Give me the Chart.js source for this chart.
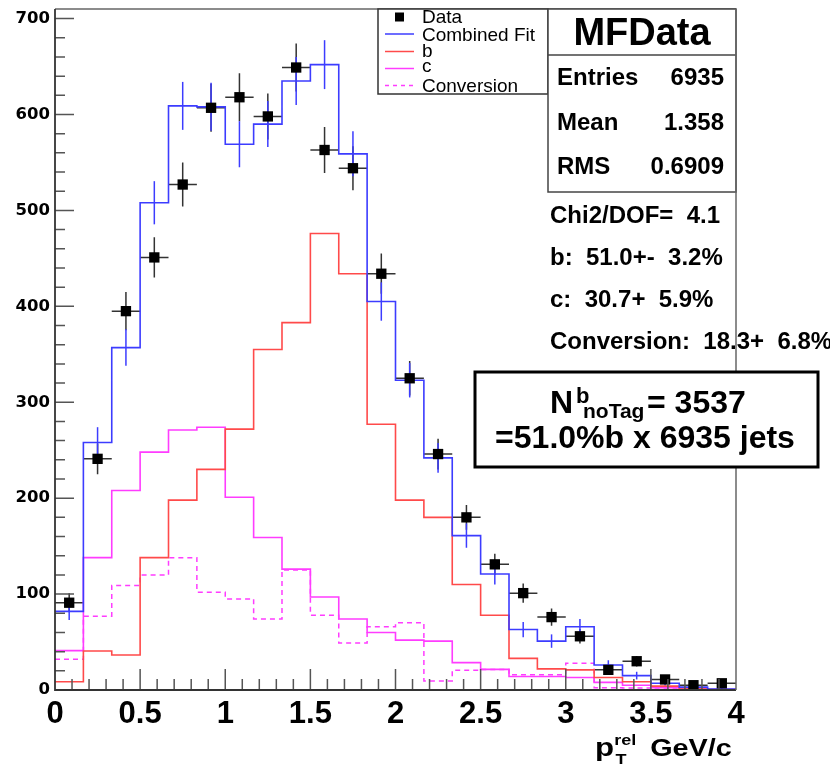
<!DOCTYPE html>
<html>
<head>
<meta charset="utf-8">
<script src="https://cdn.jsdelivr.net/npm/chart.js@4.4.1/dist/chart.umd.min.js"></script>
<style>
  html, body { margin: 0; padding: 0; background: #fff; }
  canvas { display: block; }
</style>
</head>
<body>
<canvas id="myChart" width="830" height="765"></canvas>
<script>
// bin low edges, 24 bins of width 1/6 between 0 and 4
const binLo = [0, 0.1667, 0.3333, 0.5, 0.6667, 0.8333, 1, 1.1667, 1.3333, 1.5, 1.6667, 1.8333,
               2, 2.1667, 2.3333, 2.5, 2.6667, 2.8333, 3, 3.1667, 3.3333, 3.5, 3.6667, 3.8333];
const binWidth = 0.1667;
const xMax = 4;

const dataVals = [91, 241, 395, 451, 527, 607, 618, 598, 649, 563, 544, 434, 325, 246, 180, 131, 101, 76, 56, 21, 30, 11, 5, 7];
const dataErr  = [10, 16, 20, 21, 23, 25, 25, 24, 25, 24, 23, 21, 18, 16, 13, 11, 10, 9, 7.5, 4.6, 5.5, 3.3, 2.2, 2.6];
const fitVals  = [82, 258, 357, 508, 609, 608, 569, 590, 635, 652, 559, 405, 323, 242, 161, 121, 63, 51, 66, 26, 15, 7, 3, 1];
const fitErr   = [9, 16, 19, 22.5, 25, 25, 24, 24, 25, 25.5, 23.5, 20, 18, 15.5, 12.7, 11, 8, 7, 8, 5, 4, 2.6, 1.7, 1];
const bVals    = [8.6, 40.6, 36.5, 138, 198, 230, 272, 355, 383, 476, 434, 277, 198, 180, 110, 78, 33, 22, 21, 13, 8.6, 4, 1, 0.5];
const cVals    = [41, 138, 208, 248, 271, 274, 201, 159, 126, 97, 74, 60, 52, 51, 28.5, 21.5, 14, 14, 13, 8, 5, 2.5, 1, 0.5];
const convVals = [32, 77, 109, 120, 138, 102, 95, 74, 125, 78, 49, 66, 70, 9.4, 20.5, 21.5, 16, 16, 28, 2.4, 2, 1, 0.5, 0.3];

const xTicks = [0, 0.5, 1, 1.5, 2, 2.5, 3, 3.5, 4];
const yTicks = [0, 100, 200, 300, 400, 500, 600, 700];

const legendLabels = ['Data', 'Combined Fit', 'b', 'c', 'Conversion'];
const statsTitle = 'MFData';
const statsRows = [['Entries', '6935'], ['Mean', '1.358'], ['RMS', '0.6909']];
const fitLines = ['Chi2/DOF=  4.1', 'b:  51.0+-  3.2%', 'c:  30.7+  5.9%', 'Conversion:  18.3+  6.8%'];

const BLUE = '#3c3cff';
const RED = '#ff4a4a';
const MAGENTA = '#ff3cff';
const FONT = "'Liberation Sans', Arial, Helvetica, sans-serif";

function toSteps(vals) {
    const pts = vals.map((v, i) => ({ x: binLo[i], y: v }));
    pts.push({ x: xMax, y: vals[vals.length - 1] });
    return pts;
}
const dataPoints = dataVals.map((v, i) => ({ x: binLo[i] + binWidth / 2, y: v }));

function text(ctx, s, x, y, size, weight, align) {
    ctx.font = (weight || 'normal') + ' ' + size + 'px ' + FONT;
    ctx.textAlign = align || 'left';
    ctx.textBaseline = 'alphabetic';
    ctx.fillStyle = '#000';
    ctx.fillText(s, x, y);
}

const rootPlugin = {
    id: 'rootStyle',
    beforeDatasetsDraw(chart) {
        const ctx = chart.ctx;
        const xs = chart.scales.x, ys = chart.scales.y;
        ctx.save();
        // data error bars
        ctx.strokeStyle = '#333';
        ctx.lineWidth = 1.5;
        dataVals.forEach((v, i) => {
            const xl = xs.getPixelForValue(binLo[i]);
            const xh = xs.getPixelForValue(binLo[i] + binWidth);
            const xc = xs.getPixelForValue(binLo[i] + binWidth / 2);
            ctx.beginPath();
            ctx.moveTo(xl, ys.getPixelForValue(v));
            ctx.lineTo(xh, ys.getPixelForValue(v));
            ctx.moveTo(xc, ys.getPixelForValue(v - dataErr[i]));
            ctx.lineTo(xc, ys.getPixelForValue(v + dataErr[i]));
            ctx.stroke();
        });
        // fit error bars
        ctx.strokeStyle = BLUE;
        fitVals.forEach((v, i) => {
            const xc = xs.getPixelForValue(binLo[i] + binWidth / 2);
            ctx.beginPath();
            ctx.moveTo(xc, ys.getPixelForValue(Math.max(0, v - fitErr[i])));
            ctx.lineTo(xc, ys.getPixelForValue(v + fitErr[i]));
            ctx.stroke();
        });
        ctx.restore();
    },
    afterDraw(chart) {
        const ctx = chart.ctx;
        const a = chart.chartArea;
        const xs = chart.scales.x, ys = chart.scales.y;
        ctx.save();

        // inside ticks
        ctx.strokeStyle = '#555';
        ctx.lineWidth = 1.5;
        ctx.beginPath();
        for (let i = 1; i < 40; i++) {
            const px = xs.getPixelForValue(i / 10);
            const len = i % 5 === 0 ? 21 : 11;
            ctx.moveTo(px, a.bottom);
            ctx.lineTo(px, a.bottom - len);
        }
        for (let i = 1; i <= 35; i++) {
            const py = ys.getPixelForValue(i * 20);
            const len = i % 5 === 0 ? 19 : 10;
            ctx.moveTo(a.left, py);
            ctx.lineTo(a.left + len, py);
        }
        ctx.stroke();

        // frame: top + left + bottom
        ctx.strokeStyle = '#666';
        ctx.lineWidth = 1.5;
        ctx.beginPath();
        ctx.moveTo(a.left, a.top);
        ctx.lineTo(a.right, a.top);
        ctx.stroke();
        ctx.strokeStyle = '#333';
        ctx.lineWidth = 1.8;
        ctx.beginPath();
        ctx.moveTo(a.left, a.top);
        ctx.lineTo(a.left, a.bottom);
        ctx.lineTo(a.right, a.bottom);
        ctx.stroke();

        // legend box
        const lx = 378, ly = a.top, lw = 170, lh = 85;
        ctx.fillStyle = '#fff';
        ctx.fillRect(lx, ly, lw, lh);
        ctx.strokeStyle = '#333';
        ctx.lineWidth = 1.5;
        ctx.strokeRect(lx, ly, lw, lh);
        const rowY = [17, 34, 51.5, 68.5, 85.5];
        const baseY = [23, 40.5, 57, 72, 92];
        ctx.fillStyle = '#000';
        ctx.fillRect(395, rowY[0] - 4.5, 9, 9);
        const styles = [null, [BLUE, []], [RED, []], [MAGENTA, []], [MAGENTA, [4, 4]]];
        for (let i = 1; i < 5; i++) {
            ctx.strokeStyle = styles[i][0];
            ctx.setLineDash(styles[i][1]);
            ctx.lineWidth = 1.5;
            ctx.beginPath();
            ctx.moveTo(385, rowY[i]);
            ctx.lineTo(414, rowY[i]);
            ctx.stroke();
        }
        ctx.setLineDash([]);
        legendLabels.forEach((s, i) => text(ctx, s, 422, baseY[i], 19, 'normal'));

        // stats box
        const sx = 548, sw = a.right - 548, sh = 183;
        ctx.fillStyle = '#fff';
        ctx.fillRect(sx, a.top, sw, sh);
        ctx.strokeStyle = '#444';
        ctx.lineWidth = 1.5;
        ctx.strokeRect(sx, a.top, sw, sh);
        ctx.beginPath();
        ctx.moveTo(sx, 55);
        ctx.lineTo(a.right, 55);
        ctx.stroke();
        text(ctx, statsTitle, 642, 45, 38, 'bold', 'center');
        const sy = [85, 130, 174];
        statsRows.forEach((r, i) => {
            text(ctx, r[0], 557, sy[i], 24, 'bold', 'left');
            text(ctx, r[1], 724, sy[i], 24, 'bold', 'right');
        });

        // fit results
        const fy = [223, 265, 307, 349];
        fitLines.forEach((s, i) => text(ctx, s, 550, fy[i], 24, 'bold', 'left'));

        // right frame line (drawn over the fit text)
        ctx.strokeStyle = '#666';
        ctx.lineWidth = 1.5;
        ctx.beginPath();
        ctx.moveTo(a.right, a.top);
        ctx.lineTo(a.right, a.bottom);
        ctx.stroke();

        // annotation box
        ctx.fillStyle = '#fff';
        ctx.fillRect(475, 372, 343, 95);
        ctx.strokeStyle = '#000';
        ctx.lineWidth = 3;
        ctx.strokeRect(475, 372, 343, 95);
        text(ctx, 'N', 550, 413, 32, 'bold');
        text(ctx, 'b', 576, 403, 22, 'bold');
        text(ctx, 'noTag', 583, 418, 21, 'bold');
        text(ctx, '= 3537', 647, 413, 32, 'bold');
        text(ctx, '=51.0%b x 6935 jets', 645, 448, 32, 'bold', 'center');

        // x-axis title, slightly stretched horizontally
        ctx.save();
        ctx.translate(595, 0);
        ctx.scale(1.2, 1);
        text(ctx, 'p', 0, 756, 26, 'bold');
        text(ctx, 'rel', 16, 745, 15, 'bold');
        text(ctx, 'T', 17, 764, 15, 'bold');
        text(ctx, 'GeV/c', 46, 756, 24, 'bold');
        ctx.restore();

        ctx.restore();
    }
};

const ctx = document.getElementById('myChart').getContext('2d');
new Chart(ctx, {
    type: 'line',
    data: {
        datasets: [
            {
                type: 'scatter',
                label: 'Data',
                data: dataPoints,
                pointStyle: 'rect',
                pointRadius: 7.3,
                backgroundColor: '#000',
                borderWidth: 0,
                order: 0
            },
            {
                label: 'Combined Fit',
                data: toSteps(fitVals),
                stepped: 'before',
                borderColor: BLUE,
                borderWidth: 1.6,
                pointRadius: 0,
                fill: false,
                order: 1
            },
            {
                label: 'b',
                data: toSteps(bVals),
                stepped: 'before',
                borderColor: RED,
                borderWidth: 1.6,
                pointRadius: 0,
                fill: false,
                order: 2
            },
            {
                label: 'c',
                data: toSteps(cVals),
                stepped: 'before',
                borderColor: MAGENTA,
                borderWidth: 1.6,
                pointRadius: 0,
                fill: false,
                order: 3
            },
            {
                label: 'Conversion',
                data: toSteps(convVals),
                stepped: 'before',
                borderColor: MAGENTA,
                borderDash: [5, 4],
                borderWidth: 1.5,
                pointRadius: 0,
                fill: false,
                order: 4
            }
        ]
    },
    options: {
        responsive: false,
        animation: false,
        devicePixelRatio: 1,
        layout: { padding: { left: 0, right: 94, top: 9, bottom: 0 } },
        plugins: {
            legend: { display: false },
            tooltip: { enabled: false }
        },
        scales: {
            x: {
                type: 'linear',
                min: 0,
                max: xMax,
                afterBuildTicks: s => { s.ticks = xTicks.map(v => ({ value: v })); },
                afterFit: s => { s.height = 75; s.paddingLeft = 0; s.paddingRight = 0; },
                grid: { display: false, drawTicks: false },
                border: { display: false },
                ticks: {
                    color: '#000',
                    font: { family: FONT, size: 31, weight: 'bold' },
                    padding: 6,
                    maxRotation: 0,
                    autoSkip: false,
                    callback: v => String(v)
                }
            },
            y: {
                type: 'linear',
                min: 0,
                max: 710,
                afterBuildTicks: s => { s.ticks = yTicks.map(v => ({ value: v })); },
                afterFit: s => { s.width = 55; s.paddingTop = 0; s.paddingBottom = 0; },
                grid: { display: false, drawTicks: false },
                border: { display: false },
                ticks: {
                    color: '#000',
                    font: { family: "'DejaVu Sans', sans-serif", size: 16.5, weight: 'bold' },
                    padding: 5,
                    callback: v => String(v)
                }
            }
        }
    },
    plugins: [rootPlugin]
});
</script>
</body>
</html>
